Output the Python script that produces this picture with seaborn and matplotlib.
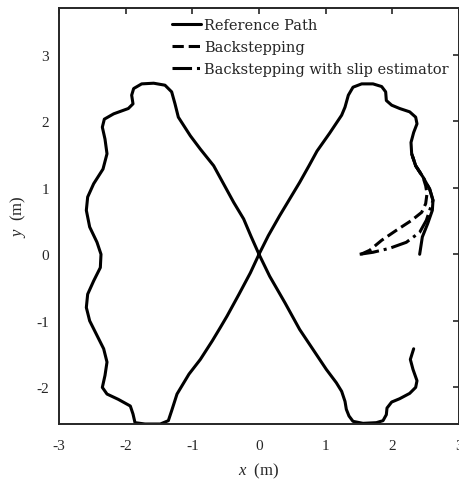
import numpy as np
import pandas as pd
import matplotlib.pyplot as plt
import seaborn as sns

# Trayectoria de referencia, en orden de recorrido
ref_x = [2.41, 2.45, 2.53, 2.60, 2.61, 2.56, 2.46, 2.35, 2.29, 2.28, 2.32, 2.37, 2.35, 2.26,
         2.11, 1.99, 1.91, 1.90, 1.84, 1.71, 1.54, 1.41, 1.34, 1.29, 1.24, 1.14, 1.06, 0.87,
         0.75, 0.61, 0.31, 0.14, 0.00,
         -0.13, -0.30, -0.48, -0.58, -0.70, -0.88, -1.05, -1.23, -1.31, -1.36, -1.48, -1.71,
         -1.86, -1.89, -1.93, -2.11, -2.28, -2.35, -2.31, -2.28, -2.33, -2.43, -2.54, -2.59,
         -2.57, -2.48, -2.38, -2.37, -2.43, -2.54, -2.59, -2.57, -2.48, -2.34, -2.28, -2.31,
         -2.35, -2.32, -2.18, -1.96, -1.89, -1.91, -1.88, -1.76, -1.58, -1.41, -1.31, -1.26,
         -1.21, -1.03, -0.88, -0.68, -0.50, -0.38, -0.23, -0.12, 0.00,
         0.16, 0.39, 0.61, 0.81, 1.01, 1.16, 1.24, 1.29, 1.31, 1.35, 1.41, 1.56, 1.76, 1.86,
         1.91, 1.92, 1.99, 2.11, 2.26, 2.35, 2.37, 2.31, 2.27, 2.32]
ref_y = [0.00, 0.26, 0.46, 0.66, 0.81, 0.98, 1.16, 1.33, 1.51, 1.68, 1.83, 1.96, 2.06, 2.14,
         2.19, 2.24, 2.31, 2.44, 2.52, 2.56, 2.56, 2.51, 2.39, 2.21, 2.09, 1.94, 1.82, 1.55,
         1.33, 1.08, 0.58, 0.28, 0.00,
         -0.28, -0.60, -0.93, -1.10, -1.30, -1.58, -1.80, -2.10, -2.35, -2.50, -2.55, -2.55,
         -2.53, -2.40, -2.28, -2.18, -2.10, -2.00, -1.82, -1.62, -1.42, -1.22, -1.00, -0.80,
         -0.60, -0.40, -0.20, 0.00, 0.18, 0.41, 0.66, 0.86, 1.06, 1.28, 1.51, 1.73,
         1.91, 2.03, 2.11, 2.19, 2.26, 2.39, 2.49, 2.56, 2.57, 2.54, 2.44, 2.26,
         2.06, 1.78, 1.58, 1.33, 1.00, 0.78, 0.53, 0.27, 0.00,
         -0.33, -0.73, -1.13, -1.43, -1.73, -1.93, -2.06, -2.21, -2.33, -2.43, -2.51, -2.54,
         -2.53, -2.50, -2.41, -2.31, -2.22, -2.17, -2.09, -2.00, -1.90, -1.73, -1.58, -1.42]

# Backstepping
bs_x = [1.53, 1.66, 1.84, 2.06, 2.29, 2.44, 2.50, 2.52, 2.50, 2.46, 2.35, 2.29]
bs_y = [0.00, 0.06, 0.21, 0.36, 0.51, 0.63, 0.76, 0.91, 1.03, 1.16, 1.33, 1.51]

# Backstepping con estimador de deslizamiento
se_x = [1.51, 1.71, 1.96, 2.21, 2.41, 2.51, 2.56, 2.61, 2.56, 2.46, 2.35, 2.29]
se_y = [0.00, 0.03, 0.09, 0.18, 0.33, 0.51, 0.66, 0.81, 0.98, 1.16, 1.33, 1.51]

x_ticks = [-3, -2, -1, 0, 1, 2, 3]
y_ticks = [-2, -1, 0, 1, 2, 3]

sns.set_style('white')
plt.rcParams['font.family'] = ['Liberation Serif', 'DejaVu Serif']
plt.rcParams['axes.unicode_minus'] = False
plt.rcParams['mathtext.fontset'] = 'custom'
plt.rcParams['mathtext.it'] = 'Liberation Serif:italic'
plt.rcParams['mathtext.rm'] = 'Liberation Serif'

fig = plt.figure(figsize=(4.6, 4.81), dpi=100)
ax = fig.add_axes([59 / 460, 56 / 481, 400 / 460, 416 / 481])

kw = dict(sort=False, estimator=None, color='k', lw=2.2, ax=ax,
          solid_joinstyle='round', dash_joinstyle='round')
sns.lineplot(x=ref_x, y=ref_y, label='Reference Path', **kw)
sns.lineplot(x=bs_x, y=bs_y, linestyle='--', label='Backstepping', **kw)
sns.lineplot(x=se_x, y=se_y, linestyle='-.', label='Backstepping with slip estimator', **kw)

ax.set_xlim(-3, 3)
ax.set_ylim(-2.55, 3.7)
ax.set_xticks(x_ticks)
ax.set_yticks(y_ticks)

for s in ax.spines.values():
    s.set_visible(True)
    s.set_color('#262626')
    s.set_linewidth(1.4)
ax.tick_params(direction='in', length=4, width=1.2, top=True, right=True,
               colors='#262626', labelsize=11)
ax.tick_params(axis='x', pad=11)
ax.tick_params(axis='y', pad=7)

ax.set_xlabel(r'$x$  (m)', fontsize=12, color='#262626', labelpad=6)
ax.set_ylabel(r'$y$  (m)', fontsize=12, color='#262626', labelpad=6)

ax.legend(loc='upper left', bbox_to_anchor=(172 / 460, 1 - 19 / 481),
          bbox_transform=fig.transFigure, frameon=False,
          prop={'family': 'DejaVu Serif', 'size': 10.5},
          handlelength=2.0, handletextpad=0.2, borderpad=0, borderaxespad=0,
          labelspacing=0.56)

fig.savefig('out.png', dpi=100)
